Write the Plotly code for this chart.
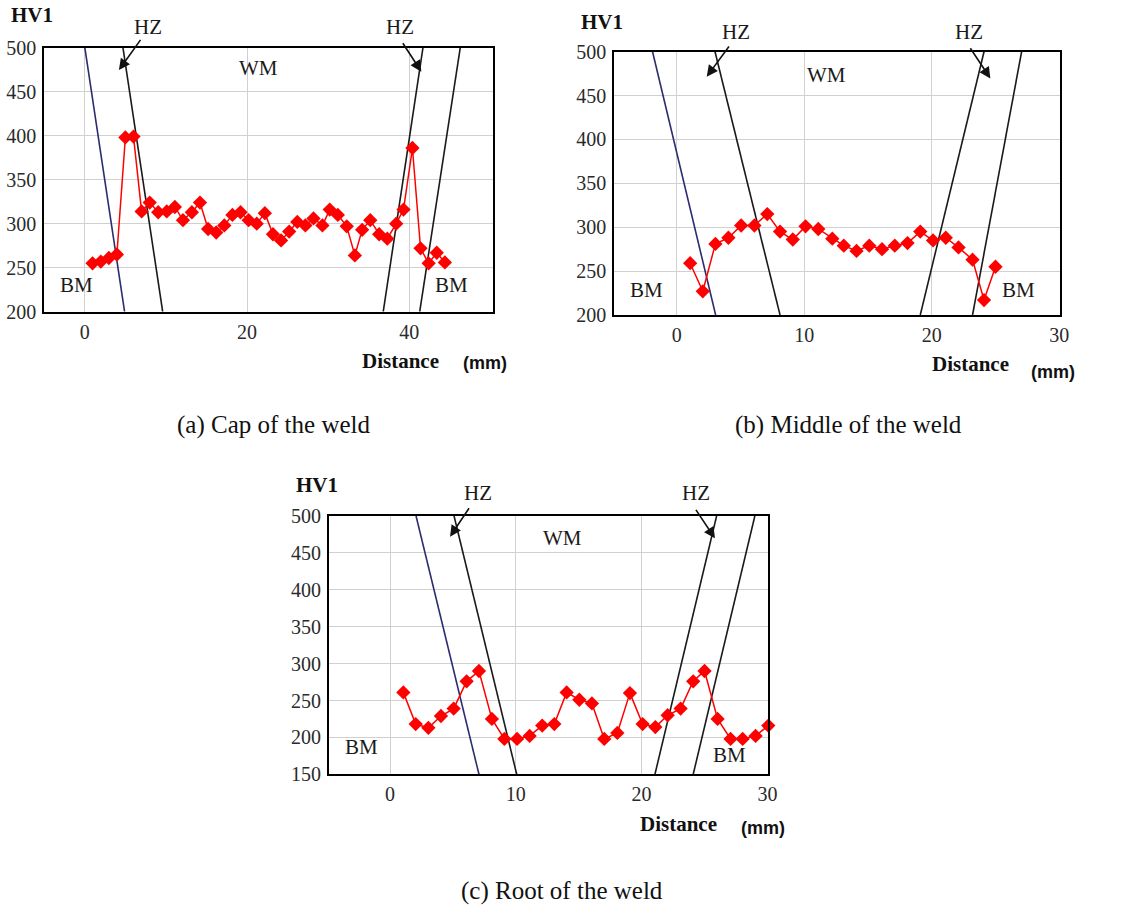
import plotly.graph_objects as go

# ---------------- data ----------------
# (a) Cap of the weld
a_x = [0.95, 1.97, 2.96, 3.95, 5.0, 6.0, 7.0, 8.0, 9.05, 10.1, 11.1, 12.1, 13.2, 14.2, 15.2,
       16.2, 17.2, 18.2, 19.2, 20.2, 21.2, 22.2, 23.2, 24.2, 25.2, 26.2, 27.2, 28.2, 29.3,
       30.2, 31.2, 32.3, 33.3, 34.2, 35.2, 36.3, 37.3, 38.4, 39.3, 40.4, 41.4, 42.4, 43.4, 44.4]
a_hv = [255, 257, 261, 265, 398, 399, 314, 324, 313, 314, 319, 304, 313, 324, 294,
        290, 298, 310, 313, 304, 300, 312, 288, 281, 291, 302, 298, 306, 298,
        316, 310, 297, 264, 293, 304, 288, 283, 300, 316, 386, 272, 255, 267, 256]
a_line_top = [0.0, 4.7, 41.7, 46.3]
a_line_bottom = [4.9, 9.6, 36.8, 41.3]

# (b) Middle of the weld
b_x = [1.05, 2.04, 3.03, 4.05, 5.05, 6.09, 7.1, 8.1, 9.1, 10.1, 11.1, 12.2, 13.1, 14.1,
       15.1, 16.1, 17.1, 18.1, 19.1, 20.1, 21.1, 22.1, 23.2, 24.1, 25.0]
b_hv = [259, 227, 281, 288, 302, 302, 315, 295, 286, 301, 298, 287, 279, 273,
        279, 275, 279, 282, 295, 285, 288, 277, 263, 217, 255]
b_line_top = [-1.9, 3.0, 24.1, 27.05]
b_line_bottom = [3.05, 8.1, 19.1, 23.2]

# (c) Root of the weld
c_x = [1.06, 2.04, 3.05, 4.05, 5.06, 6.09, 7.07, 8.1, 9.09, 10.1, 11.1, 12.1, 13.06, 14.04,
       15.05, 16.05, 17.03, 18.07, 19.07, 20.08, 21.09, 22.07, 23.1, 24.1, 25.0, 26.04,
       27.07, 28.03, 29.06, 30.07]
c_hv = [261, 218, 213, 229, 239, 276, 290, 225, 198, 198, 202, 216, 218, 261,
        251, 246, 198, 206, 260, 218, 214, 230, 239, 276, 290, 225,
        198, 198, 202, 216]
c_line_top = [2.07, 5.09, 25.96, 29.0]
c_line_bottom = [7.07, 10.07, 21.06, 24.1]

x_ticks_a = [0, 20, 40]
x_ticks_bc = [0, 10, 20, 30]
captions = ["(a) Cap of the weld", "(b) Middle of the weld", "(c) Root of the weld"]

# zone labels: (text, x, y) in data units of each panel
a_zone_labels = [("HZ", 7.8, 524), ("HZ", 38.9, 524), ("WM", 21.4, 476.5), ("BM", -1.07, 230), ("BM", 45.2, 230)]
b_zone_labels = [("HZ", 4.63, 522), ("HZ", 22.9, 522), ("WM", 11.76, 473.4), ("BM", -2.4, 228.4), ("BM", 26.8, 228.4)]
c_zone_labels = [("HZ", 6.97, 530.7), ("HZ", 24.3, 530.7), ("WM", 13.7, 469.7), ("BM", -2.25, 187.4), ("BM", 27.0, 176)]
# HZ arrows: (head_x, head_y, tail_x, tail_y)
a_arrows = [(4.2, 474.6, 7.0, 510.6), (41.5, 472.7, 39.1, 506.8)]
b_arrows = [(2.35, 471.5, 4.18, 507.6), (24.6, 469.6, 22.95, 505.7)]
c_arrows = [(4.77, 472, 6.36, 512.6), (25.83, 469.7, 24.24, 510.4)]

# ---------------- figure ----------------
W, H = 1121, 907
SERIF = "Liberation Serif"
RED = "#ff0000"
NAVY = "#2c2c6e"

def px_x(p):
    return p / W

def px_y(p):
    return 1 - p / H

panels = [
    dict(x=a_x, y=a_hv, top=a_line_top, bot=a_line_bottom, yr=[200, 500], xr=[-5, 50.3],
         xt=x_ticks_a, dom_x=[44.3, 492.7], dom_y=[47.7, 311.7], zl=a_zone_labels, ar=a_arrows),
    dict(x=b_x, y=b_hv, top=b_line_top, bot=b_line_bottom, yr=[200, 500], xr=[-4.9, 30.06],
         xt=x_ticks_bc, dom_x=[614.3, 1060], dom_y=[51.7, 315], zl=b_zone_labels, ar=b_arrows),
    dict(x=c_x, y=c_hv, top=c_line_top, bot=c_line_bottom, yr=[150, 500], xr=[-4.85, 30.07],
         xt=x_ticks_bc, dom_x=[329, 768.3], dom_y=[516, 774.3], zl=c_zone_labels, ar=c_arrows),
]

fig = go.Figure()
layout = dict(width=W, height=H, margin=dict(l=0, r=0, t=0, b=0, autoexpand=False),
              paper_bgcolor="white", plot_bgcolor="white", showlegend=False)
ann = []

def txt(text, x, y, xref, yref, size=21, bold=False, family=SERIF, color="#1a1a1a"):
    ann.append(dict(text=("<b>%s</b>" % text) if bold else text, x=x, y=y, xref=xref, yref=yref,
                    showarrow=False, font=dict(family=family, size=size, color=color),
                    xanchor="center", yanchor="middle"))

for i, p in enumerate(panels):
    k = "" if i == 0 else str(i + 1)
    xa, ya = "x" + k, "y" + k
    y0, y1 = p["yr"]
    for j, (xt, xb) in enumerate(zip(p["top"], p["bot"])):
        fig.add_trace(go.Scatter(x=[xt, xb], y=[y1, y0], mode="lines",
                                 line=dict(color=NAVY if j == 0 else "#1a1a1a", width=1.6),
                                 xaxis=xa, yaxis=ya, hoverinfo="skip"))
    fig.add_trace(go.Scatter(x=p["x"], y=p["y"], mode="lines+markers",
                             line=dict(color=RED, width=1.5),
                             marker=dict(symbol="diamond", size=11, color=RED),
                             cliponaxis=False, xaxis=xa, yaxis=ya))
    axis_common = dict(showgrid=True, gridcolor="#d0d0d0", gridwidth=1, zeroline=False,
                       showline=True, linecolor="black", linewidth=2, mirror=True,
                       automargin=False,
                       ticks="", tickfont=dict(family=SERIF, size=20, color="#2a2a2a"))
    layout["xaxis" + k] = dict(axis_common, domain=[px_x(p["dom_x"][0]), px_x(p["dom_x"][1])],
                               range=p["xr"], tickvals=p["xt"], ticklabelstandoff=1,
                               anchor=ya)
    layout["yaxis" + k] = dict(axis_common, domain=[px_y(p["dom_y"][1]), px_y(p["dom_y"][0])],
                               range=p["yr"], dtick=50, ticklabelstandoff=2,
                               anchor=xa)

    # convert data units to paper units for labels that may sit outside the plot range
    def to_paper(xv, yv, p=p):
        fx = (xv - p["xr"][0]) / (p["xr"][1] - p["xr"][0])
        fy = (yv - p["yr"][0]) / (p["yr"][1] - p["yr"][0])
        pxv = p["dom_x"][0] + fx * (p["dom_x"][1] - p["dom_x"][0])
        pyv = p["dom_y"][1] - fy * (p["dom_y"][1] - p["dom_y"][0])
        return px_x(pxv), px_y(pyv)

    for (t, xv, yv) in p["zl"]:
        qx, qy = to_paper(xv, yv)
        txt(t, qx, qy, "paper", "paper")
    for (hx, hy, tx, ty) in p["ar"]:
        ann.append(dict(text="", x=hx, y=hy, ax=tx, ay=ty, xref=xa, yref=ya,
                        axref=xa, ayref=ya, showarrow=True, arrowhead=2,
                        arrowsize=1.4, arrowwidth=1.6, arrowcolor="#111111"))

fig.update_layout(**layout)

# axis titles (paper coords)
for (hx, hy), (dx, dy), (mx, my) in [((31.7, 15), (400, 361), (485, 363)),
                                      ((601.7, 21.7), (970, 364), (1053, 372)),
                                      ((316.7, 485), (678, 824), (763, 828))]:
    txt("HV1", px_x(hx), px_y(hy), "paper", "paper", size=21, bold=True, color="#111111")
    txt("Distance", px_x(dx), px_y(dy), "paper", "paper", size=21, bold=True, color="#111111")
    txt("(mm)", px_x(mx), px_y(my), "paper", "paper", size=18, bold=True,
        family="Liberation Sans", color="#111111")

for cap, (cx, cy) in zip(captions, [(273.5, 425), (848, 425), (561.5, 891)]):
    txt(cap, px_x(cx), px_y(cy), "paper", "paper", size=25, color="#111111")

fig.update_layout(annotations=ann)
fig.write_html("out.html", config={"displayModeBar": False},
               post_script="document.body.style.margin='0px';document.body.style.overflow='hidden';")
